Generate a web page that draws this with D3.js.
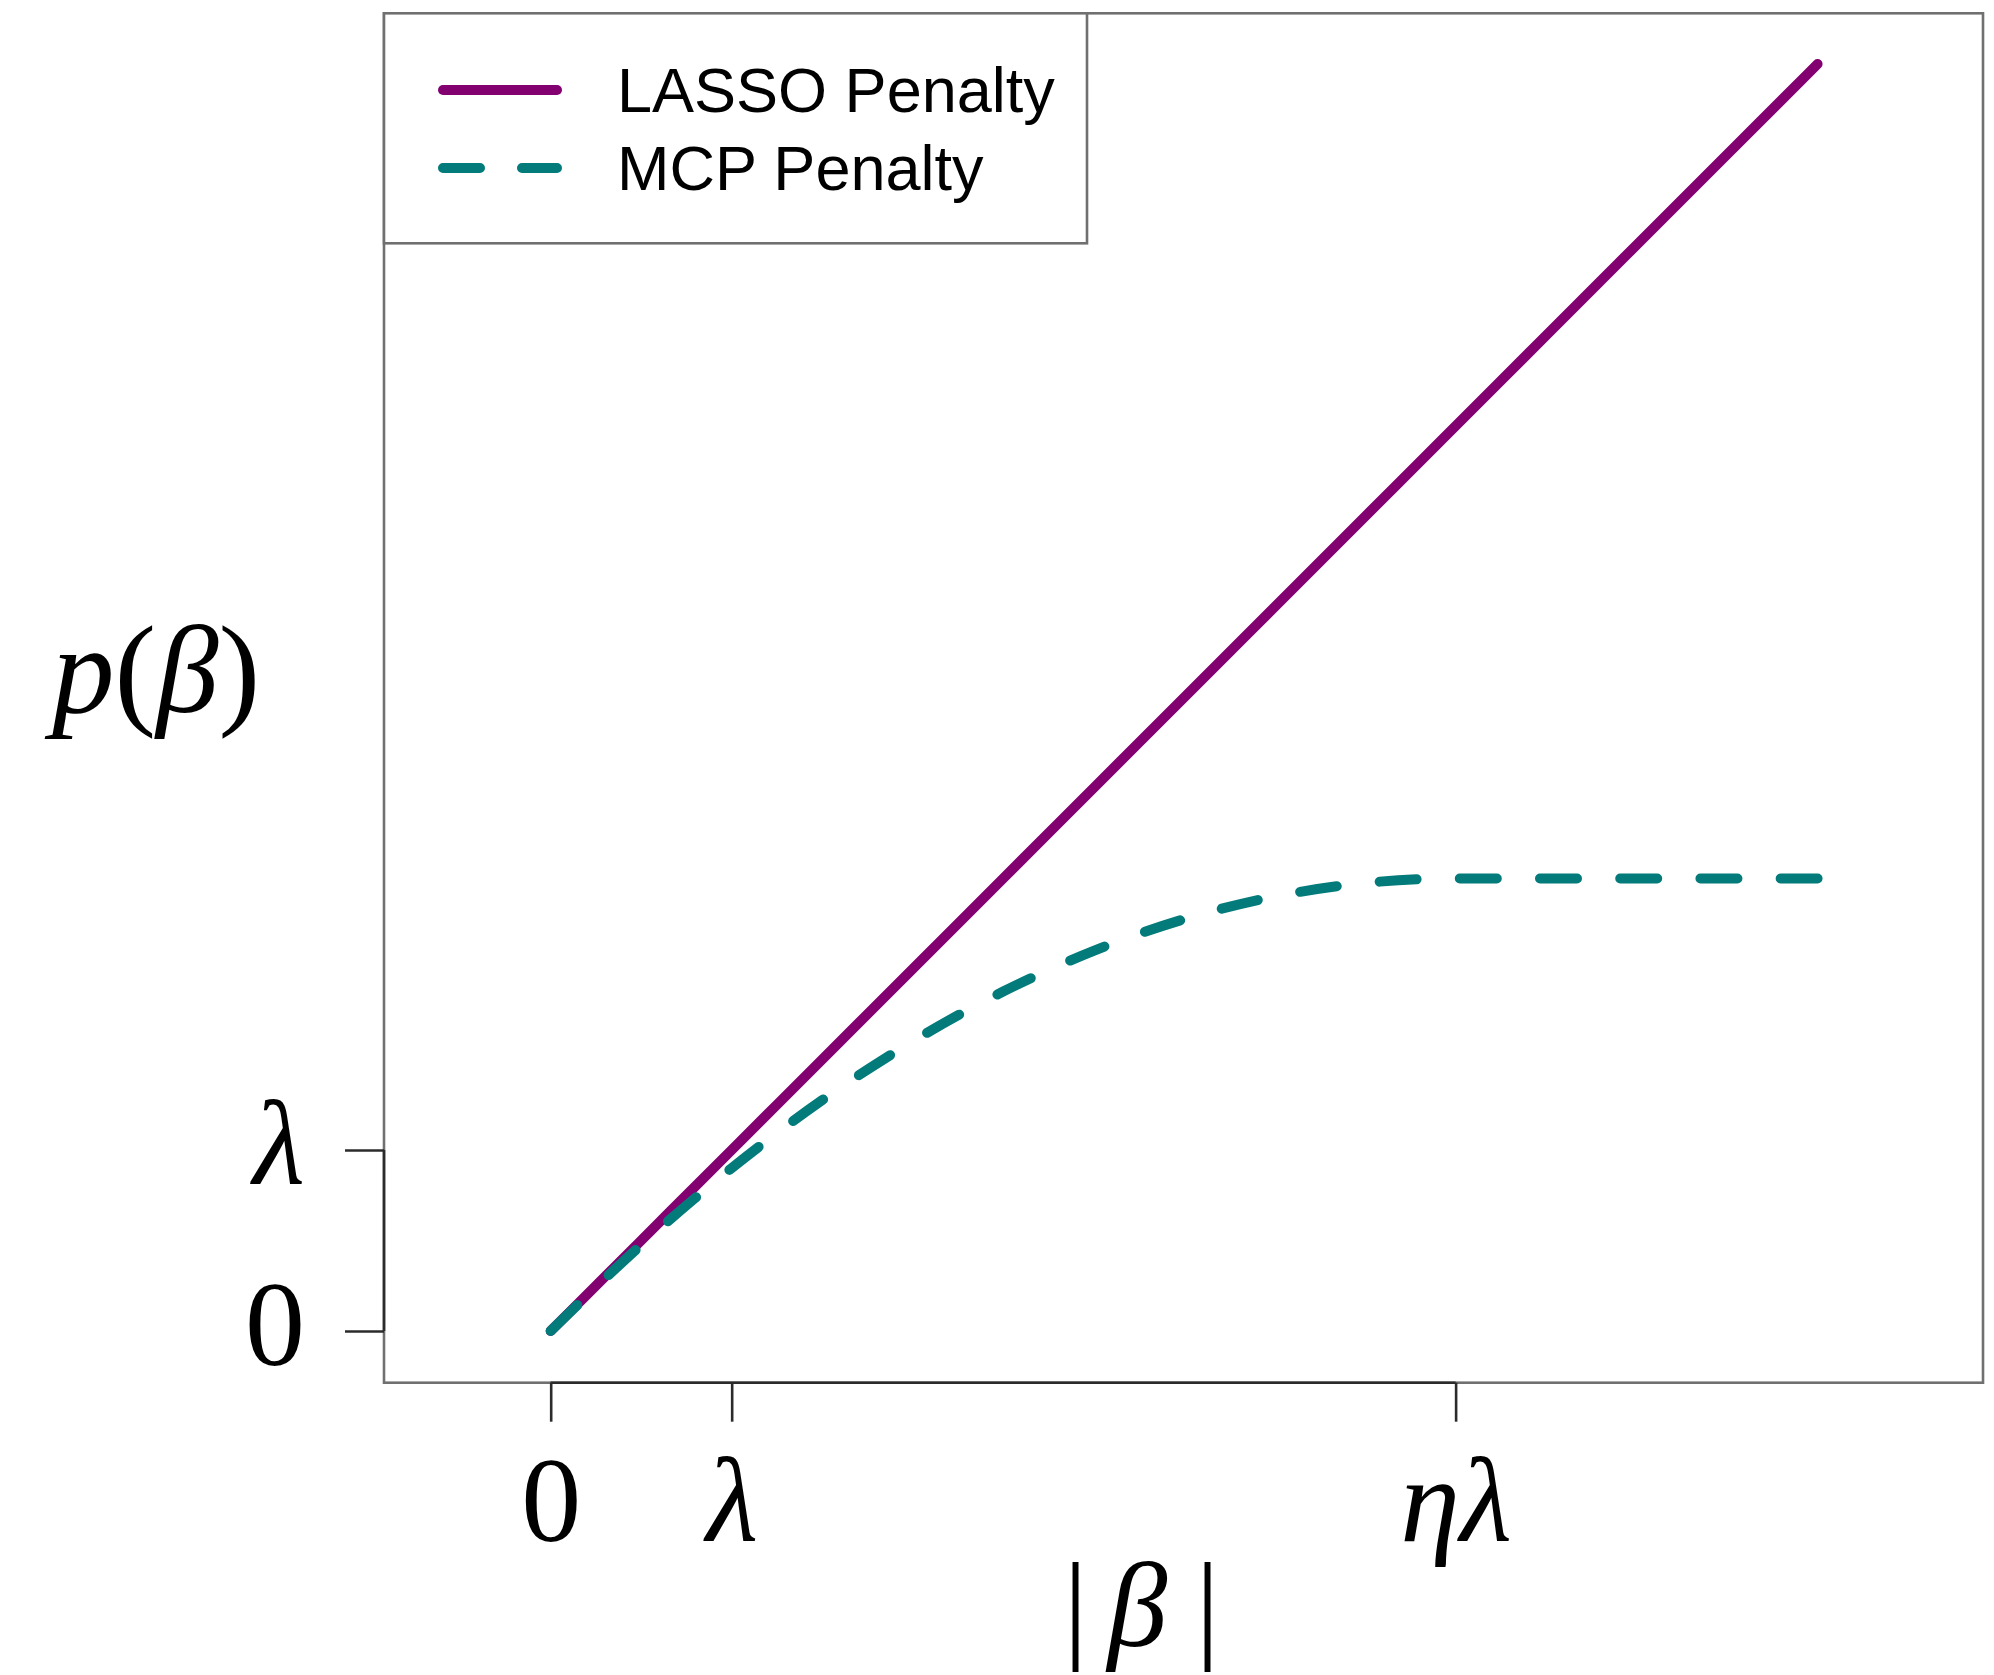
<!DOCTYPE html>
<html lang="en">
<head>
    <title>LASSO vs MCP penalty</title>
    <script src="https://d3js.org/d3.v7.min.js"></script>
    <style>
        body { margin: 0; background: #fff; }
        .math { font-family: "Liberation Serif", "Times New Roman", serif; }
        .legend text { font-family: "Liberation Sans", Arial, sans-serif; font-size: 63px; fill: #000; }
    </style>
</head>
<body>

<script>
    // values, in units of lambda
    const beta = [0, 0.5, 1, 1.5, 2, 2.5, 3, 3.5, 4, 4.5, 5, 5.5, 6, 6.5, 7];
    const lassoPenalty = [0, 0.5, 1, 1.5, 2, 2.5, 3, 3.5, 4, 4.5, 5, 5.5, 6, 6.5, 7];
    const mcpPenalty = [0, 0.475, 0.9, 1.275, 1.6, 1.875, 2.1, 2.275, 2.4, 2.475, 2.5, 2.5, 2.5, 2.5, 2.5];

    const xTicks = [0, 1, 5];
    const xTickLabels = ["0", "λ", "ηλ"];
    const yTicks = [0, 1];
    const yTickLabels = ["0", "λ"];
    const seriesNames = ["LASSO Penalty", "MCP Penalty"];
    const seriesColors = ["#82006f", "#037b7b"];

    // plot region, as R's usr limits
    const xLimits = [-0.921, 7.914];
    const yLimits = [-0.286, 7.28];

    const width = 1994, height = 1675;
    const box = {left: 384, right: 1983, top: 13.3, bottom: 1382.7};

    const x = d3.scaleLinear().domain(xLimits).range([box.left, box.right]);
    const y = d3.scaleLinear().domain(yLimits).range([box.bottom, box.top]);

    const svg = d3.select("body").append("svg")
            .attr("width", width).attr("height", height);

    const line = d3.line()
            .x(d => x(d[0])).y(d => y(d[1]))
            .curve(d3.curveMonotoneX);

    // LASSO first, MCP dashes sit on top of it
    svg.append("path")
            .datum(beta.map((b, i) => [b, lassoPenalty[i]]))
            .attr("d", line)
            .attr("fill", "none")
            .attr("stroke", seriesColors[0])
            .attr("stroke-width", 10)
            .attr("stroke-linecap", "round");

    const mcpPath = svg.append("path")
            .datum(beta.map((b, i) => [b, mcpPenalty[i]]))
            .attr("d", line)
            .attr("fill", "none")
            .attr("stroke", seriesColors[1])
            .attr("stroke-width", 10)
            .attr("stroke-linecap", "round");

    // stretch the dash period a little so the line both starts and ends on a dash
    const dash = 37;
    const len = mcpPath.node().getTotalLength();
    const period = (len - dash) / Math.round((len - dash) / 79);
    mcpPath.attr("stroke-dasharray", `${dash} ${period - dash}`);

    // frame
    svg.append("rect")
            .attr("x", box.left).attr("y", box.top)
            .attr("width", box.right - box.left).attr("height", box.bottom - box.top)
            .attr("fill", "none").attr("stroke", "#707070").attr("stroke-width", 2.6);

    // x axis
    const xAxis = svg.append("g")
            .attr("transform", `translate(0,${box.bottom})`)
            .call(d3.axisBottom(x).tickValues(xTicks)
                    .tickFormat((d, i) => xTickLabels[i])
                    .tickSize(39).tickSizeOuter(0).tickPadding(34));
    xAxis.select(".domain").remove();
    xAxis.append("line")
            .attr("x1", x(xTicks[0])).attr("x2", x(xTicks[xTicks.length - 1]))
            .attr("stroke", "#2b2b2b").attr("stroke-width", 2.6);
    xAxis.selectAll(".tick line").attr("stroke", "#2b2b2b").attr("stroke-width", 2.6);
    xAxis.selectAll(".tick text")
            .attr("class", "math")
            .attr("font-size", 120)
            .attr("dy", "0.71em")
            .attr("fill", "#000")
            .attr("font-style", (d, i) => xTickLabels[i] === "0" ? "normal" : "italic");

    // y axis
    const yAxis = svg.append("g")
            .attr("transform", `translate(${box.left},0)`)
            .call(d3.axisLeft(y).tickValues(yTicks)
                    .tickFormat((d, i) => yTickLabels[i])
                    .tickSize(39).tickSizeOuter(0).tickPadding(40));
    yAxis.select(".domain").remove();
    yAxis.append("line")
            .attr("y1", y(yTicks[0])).attr("y2", y(yTicks[yTicks.length - 1]))
            .attr("stroke", "#2b2b2b").attr("stroke-width", 2.6);
    yAxis.selectAll(".tick line").attr("stroke", "#2b2b2b").attr("stroke-width", 2.6);
    yAxis.selectAll(".tick text")
            .attr("class", "math")
            .attr("font-size", 120)
            .attr("dy", "0.28em")
            .attr("fill", "#000")
            .attr("font-style", (d, i) => yTickLabels[i] === "0" ? "normal" : "italic");

    // axis titles
    const yTitle = svg.append("text")
            .attr("class", "math")
            .attr("x", 52).attr("y", 712)
            .attr("font-size", 125);
    yTitle.append("tspan").attr("font-style", "italic").text("p");
    yTitle.append("tspan").text("(");
    yTitle.append("tspan").attr("font-style", "italic").text("β");
    yTitle.append("tspan").text(")");

    const xTitle = svg.append("text")
            .attr("class", "math")
            .attr("x", (box.left + box.right) / 2 - 42).attr("y", 1646)
            .attr("text-anchor", "middle")
            .attr("font-size", 120);
    xTitle.append("tspan").text("|");
    xTitle.append("tspan").attr("dx", 20).attr("font-style", "italic").text("β");
    xTitle.append("tspan").attr("dx", 28).text("|");

    // legend
    const legend = svg.append("g").attr("class", "legend");
    legend.append("rect")
            .attr("x", box.left).attr("y", box.top)
            .attr("width", 703).attr("height", 230)
            .attr("fill", "#fff").attr("stroke", "#707070").attr("stroke-width", 2.6);

    const legendRows = legend.selectAll("g.row")
            .data(seriesNames).join("g")
            .attr("class", "row")
            .attr("transform", (d, i) => `translate(0,${90 + i * 78})`);

    legendRows.append("line")
            .attr("x1", 443).attr("x2", 557)
            .attr("stroke", (d, i) => seriesColors[i])
            .attr("stroke-width", 10)
            .attr("stroke-linecap", "round")
            .attr("stroke-dasharray", (d, i) => i === 1 ? "37 42" : null);

    legendRows.append("text")
            .attr("x", 617).attr("y", 22)
            .text(d => d);
</script>

</body>
</html>
